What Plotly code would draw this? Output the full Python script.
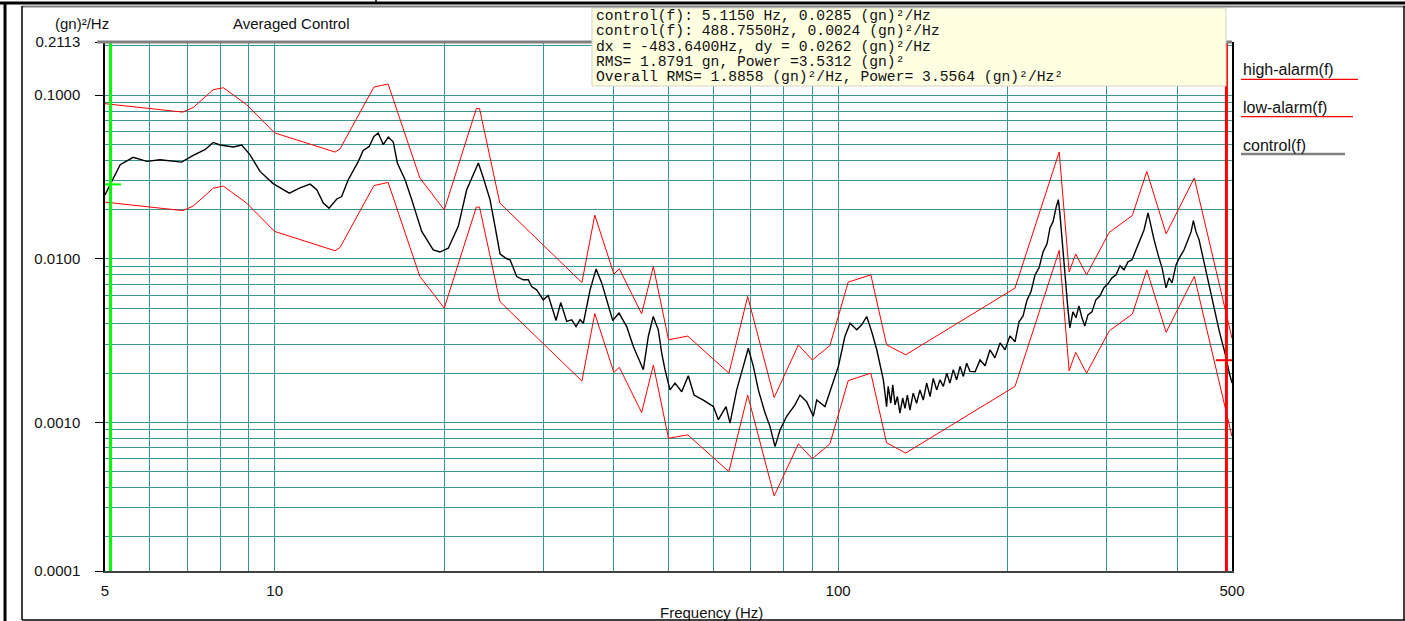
import math
import plotly.graph_objects as go

# ---------------- data ----------------
ctrl_freq = [5.00, 5.115, 5.32, 5.61, 5.93, 6.26, 6.84, 7.17, 7.52, 7.78, 8.00, 8.45, 8.74, 9.04, 9.42, 9.94,
             10.62, 11.09, 11.56, 11.88, 12.20, 12.49, 12.89, 13.15, 13.51, 14.08, 14.36, 14.72, 15.00, 15.27,
             15.59, 15.91, 16.24, 16.51, 17.04, 17.51, 18.24, 19.12, 19.65, 20.33, 21.18, 21.92, 22.52, 22.99,
             23.46, 24.11, 24.61, 25.12, 25.82, 26.17, 26.89, 27.62, 28.19, 28.58, 29.17, 29.97, 30.59, 31.58,
             32.19, 32.99, 33.67, 34.27, 34.83, 35.31, 36.29, 37.19, 38.07, 38.85, 39.81, 40.84, 42.15, 43.31,
             45.11, 46.04, 46.98, 47.96, 48.63, 49.29, 50.31, 51.35, 52.77, 54.21, 55.50, 57.65, 60.06, 61.30,
             63.25, 64.29, 66.07, 67.87, 69.28, 70.72, 72.18, 74.19, 75.71, 77.27, 78.86, 81.04, 83.83, 85.57,
             87.94, 90.35, 91.62, 94.77, 97.40, 100.1, 102.8, 105.0, 107.9, 110.1, 112.4, 114.7, 117.1, 120.3,
             121.9, 122.7, 124.0, 125.0, 126.2, 127.4, 128.7, 130.2, 131.4, 132.7, 134.1, 135.9, 137.8, 139.7,
             141.6, 143.6, 145.6, 147.5, 149.6, 151.6, 153.7, 155.9, 157.9, 160.1, 162.3, 164.6, 166.8, 169.1,
             171.4, 175.0, 178.6, 182.3, 186.0, 189.8, 193.8, 197.8, 201.8, 206.0, 209.4, 212.9, 216.4, 219.9,
             223.6, 227.3, 231.0, 234.8, 237.7, 240.6, 243.6, 245.9, 247.6, 249.6, 252.7, 255.8, 257.8, 261.0,
             264.3, 267.5, 270.8, 274.1, 277.5, 282.1, 286.7, 291.5, 296.3, 301.2, 306.2, 311.3, 316.4, 321.6,
             326.9, 332.3, 337.8, 343.4, 349.0, 354.8, 359.2, 363.6, 369.6, 375.7, 381.9, 386.6, 391.3, 397.8,
             404.4, 411.1, 417.9, 423.0, 427.0, 431.7, 437.0, 444.2, 451.5, 458.9, 466.5, 474.1, 480.0, 487.9,
             493.8, 500.0]
ctrl_psd = [0.0246, 0.0285, 0.0376, 0.0417, 0.0394, 0.0403, 0.0390, 0.0428, 0.0464, 0.0514, 0.0496, 0.0482,
            0.0496, 0.0433, 0.0342, 0.0288, 0.0252, 0.0271, 0.0286, 0.0264, 0.0219, 0.0204, 0.0232, 0.0240,
            0.0304, 0.0394, 0.0460, 0.0486, 0.0560, 0.0587, 0.0498, 0.0555, 0.0517, 0.0385, 0.0304, 0.0230,
            0.0147, 0.01135, 0.0110, 0.0116, 0.0158, 0.0264, 0.0326, 0.0385, 0.0313, 0.0230, 0.0158, 0.0107,
            0.0100, 0.00986, 0.00779, 0.00744, 0.00744, 0.00677, 0.00646, 0.00561, 0.00596, 0.00420, 0.00540,
            0.00414, 0.00424, 0.00385, 0.00424, 0.00404, 0.00646, 0.00865, 0.00710, 0.00561, 0.00420, 0.00466,
            0.00385, 0.00291, 0.00210, 0.00335, 0.00444, 0.00368, 0.00265, 0.00210, 0.00158, 0.00174, 0.00154,
            0.00193, 0.00147, 0.00137, 0.00125, 0.00104, 0.00125, 0.000989, 0.00158, 0.00220, 0.00284, 0.00220,
            0.00158, 0.00114, 0.000943, 0.000711, 0.000900, 0.00109, 0.00128, 0.00147, 0.00134, 0.00109,
            0.00137, 0.00125, 0.00166, 0.00220, 0.00335, 0.00404, 0.00368, 0.00395, 0.00444, 0.00359, 0.00278,
            0.00182, 0.00125, 0.00166, 0.00131, 0.00170, 0.00128, 0.00144, 0.00114, 0.00141, 0.00122, 0.00147,
            0.00119, 0.00151, 0.00131, 0.00158, 0.00137, 0.00174, 0.00144, 0.00186, 0.00158, 0.00182, 0.00166,
            0.00200, 0.00174, 0.00210, 0.00182, 0.00220, 0.00191, 0.00230, 0.00205, 0.00204, 0.00241, 0.00222,
            0.00278, 0.00248, 0.00306, 0.00278, 0.00338, 0.00311, 0.00412, 0.00448, 0.00561, 0.00628, 0.00798,
            0.00881, 0.0110, 0.01235, 0.0155, 0.0168, 0.0205, 0.0230, 0.0186, 0.0131, 0.00798, 0.00488, 0.00378,
            0.00474, 0.00436, 0.00516, 0.00436, 0.00389, 0.00454, 0.00474, 0.00561, 0.00594, 0.00665, 0.00703,
            0.00765, 0.00798, 0.00906, 0.00856, 0.00958, 0.00986, 0.01135, 0.0131, 0.0150, 0.0191, 0.0155,
            0.0131, 0.0106, 0.00881, 0.00665, 0.00765, 0.00713, 0.00919, 0.0103, 0.01135, 0.0131, 0.0146,
            0.0171, 0.0146, 0.0131, 0.0101, 0.00798, 0.00628, 0.00468, 0.00368, 0.00311, 0.00252, 0.00204,
            0.00174]

alarm_freq = [5.0, 6.87, 7.17, 7.78, 8.11, 8.92, 10.0, 12.8, 13.06, 15.0, 15.9, 18.1, 20.0, 22.8, 23.1, 25.1,
              35.1, 37.0, 40.0, 40.9, 44.8, 47.0, 50.0, 54.1, 64.0, 69.1, 77.0, 85.0, 90.0, 96.7, 104.2, 114.3,
              121.9, 131.8, 206.0, 246.8, 257.0, 264.0, 276.0, 302.8, 332.8, 353.0, 382.0, 428.6, 500.0]
high_alarm = [0.0887, 0.0788, 0.0841, 0.108, 0.111, 0.0875, 0.0588, 0.0449, 0.0469, 0.112, 0.117, 0.0312,
              0.0199, 0.0828, 0.0828, 0.0219, 0.00716, 0.0185, 0.00806, 0.00869, 0.00461, 0.00897, 0.0032,
              0.00337, 0.0020, 0.00588, 0.00142, 0.00297, 0.00241, 0.00295, 0.0072, 0.00798, 0.00298, 0.00259,
              0.00662, 0.0450, 0.00829, 0.0107, 0.00798, 0.0145, 0.0184, 0.0342, 0.0142, 0.0312, 0.00327]
low_alarm = [0.0222, 0.0197, 0.0210, 0.0270, 0.0278, 0.0219, 0.0147, 0.0112, 0.0117, 0.0280, 0.0293, 0.0078,
             0.0050, 0.0207, 0.0207, 0.00548, 0.00179, 0.00463, 0.00202, 0.00217, 0.00115, 0.00224, 0.0008,
             0.00084, 0.0005, 0.00147, 0.000355, 0.00074, 0.0006, 0.00074, 0.0018, 0.0020, 0.00075, 0.00065,
             0.00166, 0.01125, 0.00207, 0.00268, 0.0020, 0.00363, 0.0046, 0.00855, 0.00355, 0.0078, 0.00082]

cursor_freq = [5.115, 488.755]
cursor_psd = [0.0285, 0.0024]
cursor_colors = ["#00ff00", "#ff0000"]

x_tickvals = [5, 10, 100, 500]
x_ticktext = ["5", "10", "100", "500"]
x_minor = [6, 7, 8, 9, 20, 30, 40, 50, 60, 70, 80, 90, 200, 300, 400]
y_tickvals = [1.236e-4, 0.001, 0.01, 0.1, 0.2113]
y_ticktext = ["0.0001", "0.0010", "0.0100", "0.1000", "0.2113"]
y_minor = [0.0002, 0.0003, 0.0004, 0.0005, 0.0006, 0.0007, 0.0008, 0.0009,
           0.002, 0.003, 0.004, 0.005, 0.006, 0.007, 0.008, 0.009,
           0.02, 0.03, 0.04, 0.05, 0.06, 0.07, 0.08, 0.09, 0.2]

info_lines = [
    "control(f): 5.1150 Hz, 0.0285 (gn)²/Hz",
    "control(f): 488.7550Hz, 0.0024 (gn)²/Hz",
    "dx = -483.6400Hz, dy = 0.0262 (gn)²/Hz",
    "RMS= 1.8791 gn, Power =3.5312 (gn)²",
    "Overall RMS= 1.8858 (gn)²/Hz, Power= 3.5564 (gn)²/Hz²",
]
legend_names = ["high-alarm(f)", "low-alarm(f)", "control(f)"]
legend_colors = ["#ff0000", "#ff0000", "#808080"]

# ---------------- figure ----------------
W, H = 1405, 621
ML, MR, MT, MB = 105, 173, 42, 50
PW, PH = W - ML - MR, H - MT - MB


def px(x):
    return (x - ML) / PW


def py(y):
    return (H - MB - y) / PH


GRID = "#3a9696"
SANS = "Arial, Liberation Sans, sans-serif"

fig = go.Figure()
fig.add_trace(go.Scatter(x=alarm_freq, y=high_alarm, mode="lines", line=dict(color="#ff0000", width=1),
                         name=legend_names[0]))
fig.add_trace(go.Scatter(x=alarm_freq, y=low_alarm, mode="lines", line=dict(color="#ff0000", width=1),
                         name=legend_names[1]))
fig.add_trace(go.Scatter(x=ctrl_freq, y=ctrl_psd, mode="lines", line=dict(color="#000000", width=1.4),
                         name=legend_names[2]))
for f, v, c in zip(cursor_freq, cursor_psd, cursor_colors):
    fig.add_trace(go.Scatter(x=[f, f], y=[1e-5, 1.0], mode="lines", line=dict(color=c, width=3),
                             hoverinfo="skip"))
    fig.add_trace(go.Scatter(x=[f], y=[v], mode="markers",
                             marker=dict(symbol="line-ew", size=15, line=dict(color=c, width=2))))

shapes = []
# top gray border of plot area
shapes.append(dict(type="line", xref="paper", yref="paper", x0=px(97), x1=1.0, y0=1.0, y1=1.0,
                   line=dict(color="#808080", width=3), layer="above"))
# info box
shapes.append(dict(type="rect", xref="paper", yref="paper", x0=px(592), x1=px(1226), y0=py(86), y1=py(8),
                   fillcolor="#ffffe1", line=dict(color="#d4d4c4", width=1), layer="above"))
# outer frame
frame = [
    (0, 3, 1405, 3, "#000000", 3),
    (22, 6.5, 1405, 6.5, "#808080", 2),
    (5, 3, 5, 621, "#000000", 3),
    (22, 6, 22, 620, "#000000", 1.5),
    (22, 620, 1405, 620, "#000000", 1.5),
    (1404, 6, 1404, 620, "#000000", 1.5),
    (376, 0, 376, 3, "#000000", 1.5),
]
for x0, y0, x1, y1, c, w in frame:
    shapes.append(dict(type="line", xref="paper", yref="paper", x0=px(x0), x1=px(x1), y0=py(y0), y1=py(y1),
                       line=dict(color=c, width=w), layer="above"))
# legend underlines
for (x1, yy), c, w in zip([(1358, 79.3), (1353, 116.7), (1345, 154)], legend_colors, [1.2, 1.2, 2.5]):
    shapes.append(dict(type="line", xref="paper", yref="paper", x0=px(1241), x1=px(x1), y0=py(yy), y1=py(yy),
                       line=dict(color=c, width=w)))

annotations = []
annotations.append(dict(text="(gn)²/Hz", x=px(81.7), y=py(24), xref="paper", yref="paper", showarrow=False,
                        xanchor="center", yanchor="middle", font=dict(family=SANS, size=15, color="#111")))
annotations.append(dict(text="Averaged Control", x=px(291), y=py(24), xref="paper", yref="paper",
                        showarrow=False, xanchor="center", yanchor="middle",
                        font=dict(family=SANS, size=15, color="#111")))
annotations.append(dict(text="Frequency (Hz)", x=px(711), y=py(612), xref="paper", yref="paper",
                        showarrow=False, xanchor="center", yanchor="middle",
                        font=dict(family=SANS, size=15, color="#111")))
for name, yy in zip(legend_names, [70, 108, 145]):
    annotations.append(dict(text=name, x=px(1241), y=py(yy), xref="paper", yref="paper", showarrow=False,
                            xanchor="left", yanchor="middle", font=dict(family=SANS, size=16, color="#111")))
for line, yy in zip(info_lines, [16, 31.5, 47, 62, 77.5]):
    annotations.append(dict(text=line, x=px(594), y=py(yy), xref="paper", yref="paper", showarrow=False,
                            xanchor="left", yanchor="middle",
                            font=dict(family="Liberation Mono, DejaVu Sans Mono, monospace", size=14.7,
                                      color="#111")))

fig.update_layout(
    width=W, height=H,
    margin=dict(l=ML, r=MR, t=MT, b=MB, pad=0),
    paper_bgcolor="white", plot_bgcolor="white",
    showlegend=False,
    shapes=shapes,
    annotations=annotations,
    font=dict(family=SANS, size=15, color="#111"),
)
fig.update_xaxes(
    type="log", range=[math.log10(5), math.log10(500)],
    tickmode="array", tickvals=x_tickvals, ticktext=x_ticktext,
    showgrid=True, gridcolor=GRID, gridwidth=1.3,
    minor=dict(tickmode="array", tickvals=x_minor, showgrid=True, gridcolor=GRID, gridwidth=1.3, ticks=""),
    showline=True, linecolor="#404040", linewidth=1.5,
    ticks="outside", ticklen=5, tickcolor="rgba(0,0,0,0)",
    tickfont=dict(family=SANS, size=15, color="#111"), zeroline=False,
)
fig.update_yaxes(
    type="log", range=[math.log10(y_tickvals[0]), math.log10(y_tickvals[-1])],
    tickmode="array", tickvals=y_tickvals, ticktext=y_ticktext,
    showgrid=True, gridcolor=GRID, gridwidth=1.3,
    minor=dict(tickmode="array", tickvals=y_minor, showgrid=True, gridcolor=GRID, gridwidth=1.3, ticks=""),
    showline=True, linecolor="#000000", linewidth=1.5, mirror=True,
    ticks="outside", ticklen=8, tickcolor="#000000", ticklabelstandoff=12,
    tickfont=dict(family=SANS, size=15, color="#111"), zeroline=False,
)

fig.write_html("out.html", config={"displayModeBar": False},
               post_script="document.body.style.margin='0';document.body.style.overflow='hidden';")
